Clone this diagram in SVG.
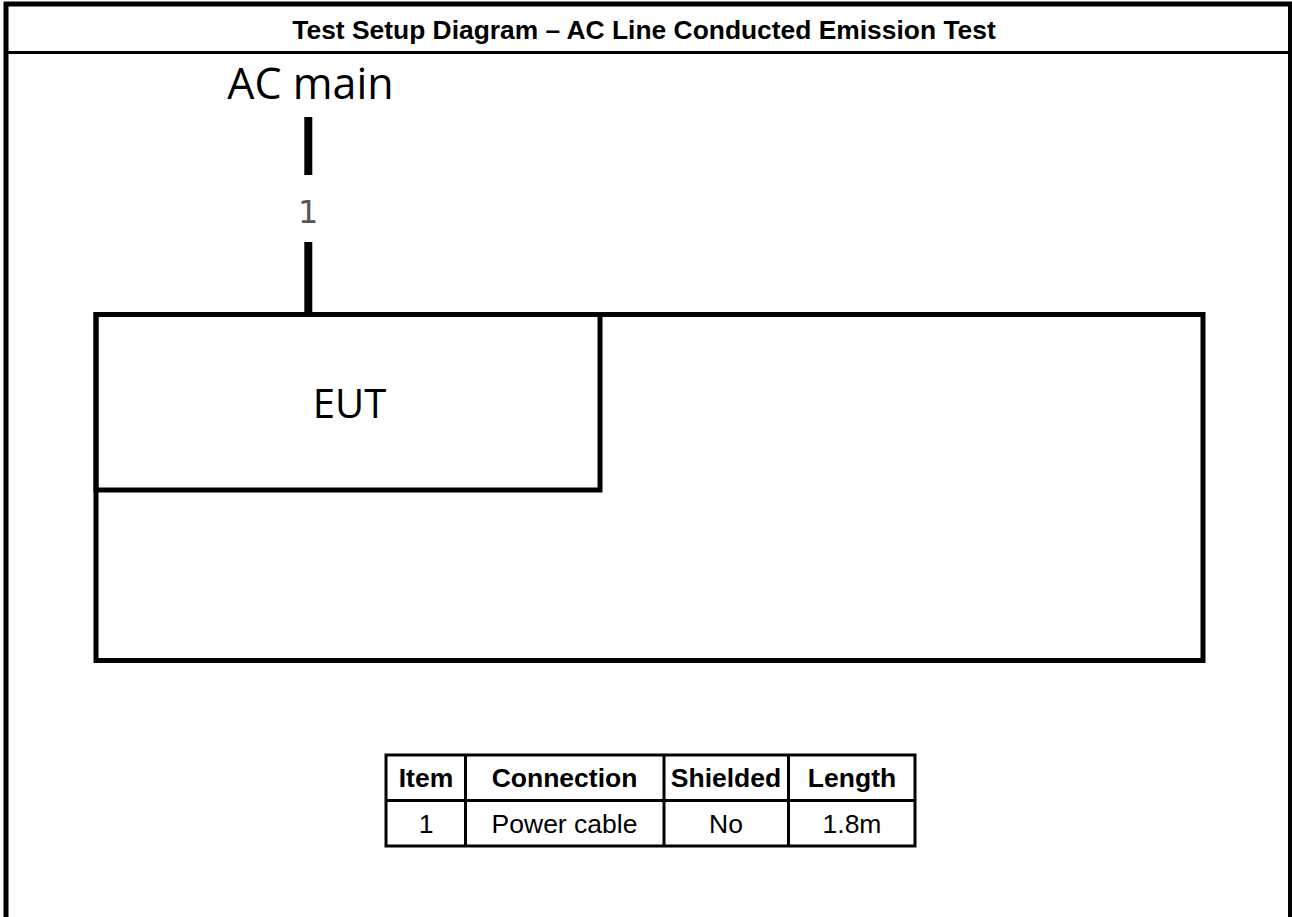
<svg xmlns="http://www.w3.org/2000/svg" width="1292" height="917" viewBox="0 0 1292 917">
<style>
.frame{fill:none;stroke:#000;stroke-width:5}
.box{fill:none;stroke:#000;stroke-width:5;stroke-linejoin:miter}
.cable{stroke:#000;stroke-width:8;fill:none}
.tb{fill:none;stroke:#000;stroke-width:3}
.title{font-family:"Liberation Sans",Arial,sans-serif;font-weight:bold;font-size:26.4px;fill:#000}
.big{font-family:"Open Sans","Noto Sans",sans-serif;fill:#000}
.th{font-family:"Liberation Sans",Arial,sans-serif;font-weight:bold;font-size:26.5px;fill:#000}
.td{font-family:"Liberation Sans",Arial,sans-serif;font-size:26.5px;fill:#000}
</style>
<rect x="0" y="0" width="1292" height="917" fill="#fff"/>
<g id="frame">
<rect class="frame" x="6" y="4" width="1284.5" height="1000"/>
<line x1="6" y1="52.5" x2="1292" y2="52.5" stroke="#000" stroke-width="3"/>
<text class="title" x="644" y="39" text-anchor="middle">Test Setup Diagram – AC Line Conducted Emission Test</text>
</g>
<g id="ac-main">
<text class="big" x="310.5" y="99" font-size="43" text-anchor="middle">AC main</text>
</g>
<g id="table-surface">
<rect class="box" x="96" y="314.5" width="1107" height="346"/>
</g>
<g id="eut">
<rect class="box" x="96" y="314.5" width="504" height="175.5"/>
<text class="big" x="349.5" y="418" font-size="40" text-anchor="middle">EUT</text>
</g>
<g id="connectors">
<line class="cable" x1="308.3" y1="117" x2="308.3" y2="175"/>
<line class="cable" x1="308.3" y1="242" x2="308.3" y2="313"/>
<text x="308.3" y="223" font-family="DejaVu Sans,sans-serif" font-size="32" fill="#555" text-anchor="middle">1</text>
</g>
<g id="legend">
<rect class="tb" x="386" y="755" width="529" height="91"/>
<line class="tb" x1="386" y1="800.5" x2="915" y2="800.5"/>
<line class="tb" x1="465.5" y1="755" x2="465.5" y2="846"/>
<line class="tb" x1="664" y1="755" x2="664" y2="846"/>
<line class="tb" x1="788.5" y1="755" x2="788.5" y2="846"/>
<text class="th" x="426" y="786.5" text-anchor="middle">Item</text>
<text class="th" x="564.5" y="786.5" text-anchor="middle">Connection</text>
<text class="th" x="726" y="786.5" text-anchor="middle">Shielded</text>
<text class="th" x="852" y="786.5" text-anchor="middle">Length</text>
<text class="td" x="426" y="832.5" text-anchor="middle">1</text>
<text class="td" x="564.5" y="832.5" text-anchor="middle">Power cable</text>
<text class="td" x="726" y="832.5" text-anchor="middle">No</text>
<text class="td" x="852" y="832.5" text-anchor="middle">1.8m</text>
</g>
</svg>
